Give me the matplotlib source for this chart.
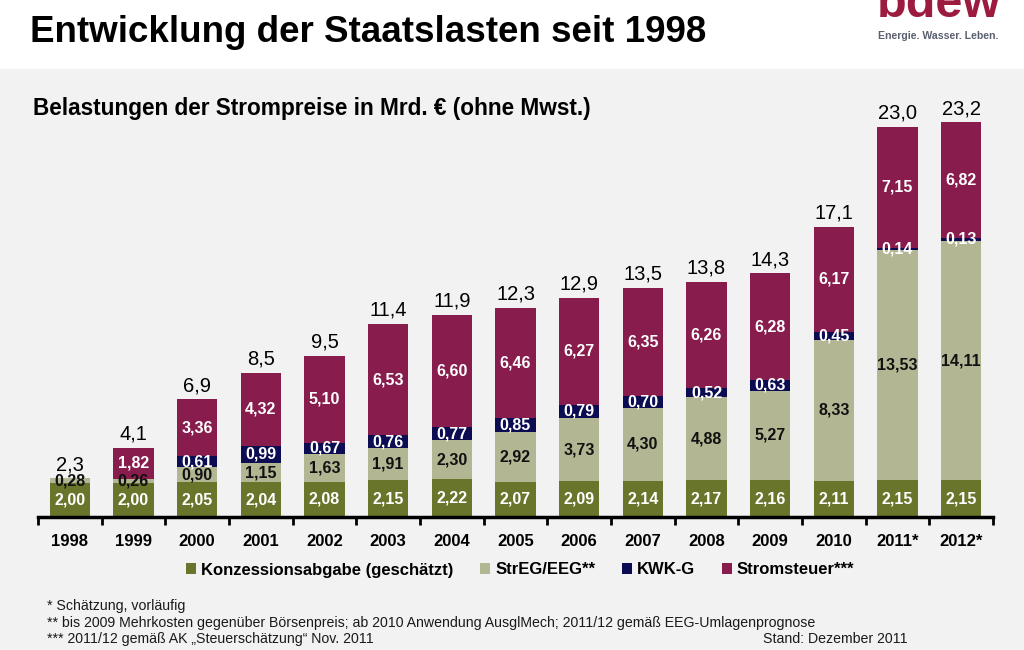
import matplotlib.pyplot as plt
import numpy as np

years = ['1998', '1999', '2000', '2001', '2002', '2003', '2004', '2005',
         '2006', '2007', '2008', '2009', '2010', '2011*', '2012*']
konz = [2.00, 2.00, 2.05, 2.04, 2.08, 2.15, 2.22, 2.07, 2.09, 2.14, 2.17, 2.16, 2.11, 2.15, 2.15]
eeg = [0.28, 0.26, 0.90, 1.15, 1.63, 1.91, 2.30, 2.92, 3.73, 4.30, 4.88, 5.27, 8.33, 13.53, 14.11]
kwk = [0, 0, 0.61, 0.99, 0.67, 0.76, 0.77, 0.85, 0.79, 0.70, 0.52, 0.63, 0.45, 0.14, 0.13]
steuer = [0, 1.82, 3.36, 4.32, 5.10, 6.53, 6.60, 6.46, 6.27, 6.35, 6.26, 6.28, 6.17, 7.15, 6.82]
totals = [2.3, 4.1, 6.9, 8.5, 9.5, 11.4, 11.9, 12.3, 12.9, 13.5, 13.8, 14.3, 17.1, 23.0, 23.2]

series = [
    ('Konzessionsabgabe (geschätzt)', konz, '#68752a', 'white'),
    ('StrEG/EEG**', eeg, '#b2b692', '#111111'),
    ('KWK-G', kwk, '#0c0c52', 'white'),
    ('Stromsteuer***', steuer, '#871c4d', 'white'),
]

plt.rcParams['font.family'] = ['Liberation Sans', 'DejaVu Sans']

fig = plt.figure(figsize=(10.24, 6.5), dpi=100)
fig.patch.set_facecolor('#f2f2f2')
# white header band
fig.patches.append(plt.Rectangle((0, 1 - 69 / 650), 1, 69 / 650, transform=fig.transFigure,
                                 facecolor='white', edgecolor='none', zorder=0))

ax = fig.add_axes([38 / 1024, 1 - 517 / 650, 955 / 1024, 417 / 650])
ax.set_facecolor('none')
x = np.arange(len(years))
bottom = np.zeros(len(years))
for name, vals, col, tcol in series:
    vals = np.array(vals)
    ax.bar(x, vals, 0.63, bottom=bottom, color=col, label=name, zorder=2)
    for xi, b, v in zip(x, bottom, vals):
        if v > 0:
            ax.text(xi, b + v / 2, f'{v:.2f}'.replace('.', ','), ha='center', va='center',
                    color=tcol, fontsize=11.5, fontweight='bold', zorder=3)
    bottom += vals

for xi, t, top in zip(x, totals, bottom):
    ax.annotate(f'{t:.1f}'.replace('.', ','), (xi, top), xytext=(0, 3), textcoords='offset points',
                ha='center', va='bottom', fontsize=14.5, color='black')

ax.set_xlim(-0.5, len(years) - 0.5)
ax.set_ylim(0, 24.53)
ax.set_yticks([])
for s in ['top', 'right', 'left']:
    ax.spines[s].set_visible(False)
ax.spines['bottom'].set_linewidth(2.5)
ax.set_xticks(np.arange(len(years) + 1) - 0.5, minor=False)
ax.set_xticklabels([])
ax.tick_params(axis='x', length=6, width=2, direction='out')
for xi, lab in zip(x, years):
    ax.text(xi, -1.45, lab, ha='center', va='center', fontsize=12, fontweight='bold')

leg = fig.legend(loc='center', bbox_to_anchor=(520 / 1024, 1 - 570 / 650), ncol=4, frameon=False,
                 prop={'weight': 'bold', 'size': 12}, handlelength=0.6, handleheight=0.6,
                 handletextpad=0.3, columnspacing=1.6)

fig.text(30 / 1024, 1 - 33 / 650, 'Entwicklung der Staatslasten seit 1998', fontsize=26.5,
         fontweight='bold', va='center', ha='left')
fig.text(33 / 1024, 1 - 108 / 650, 'Belastungen der Strompreise in Mrd. € (ohne Mwst.)',
         fontsize=16.3, fontweight='bold', va='center', ha='left')

# logo (top of the word is cut off by the page edge, as in the original)
fig.text(939 / 1024, 1 - 17 / 650, 'bdew', fontsize=35, fontweight='bold', color='#9c1b3f',
         ha='center', va='baseline')
fig.text(938 / 1024, 1 - 36 / 650, 'Energie. Wasser. Leben.', fontsize=7.6, fontweight='bold',
         color='#5a6070', ha='center', va='center')

notes = ['* Schätzung, vorläufig',
         '** bis 2009 Mehrkosten gegenüber Börsenpreis; ab 2010 Anwendung AusglMech; 2011/12 gemäß EEG-Umlagenprognose',
         '*** 2011/12 gemäß AK „Steuerschätzung“ Nov. 2011']
for i, n in enumerate(notes):
    fig.text(47 / 1024, 1 - (606 + 16.5 * i) / 650, n, fontsize=10.2, va='center', ha='left',
             color='#1a1a1a')
fig.text(763 / 1024, 1 - 639 / 650, 'Stand: Dezember 2011', fontsize=10.2, va='center', ha='left',
         color='#1a1a1a')

fig.savefig('out.png', dpi=100, facecolor=fig.get_facecolor())
